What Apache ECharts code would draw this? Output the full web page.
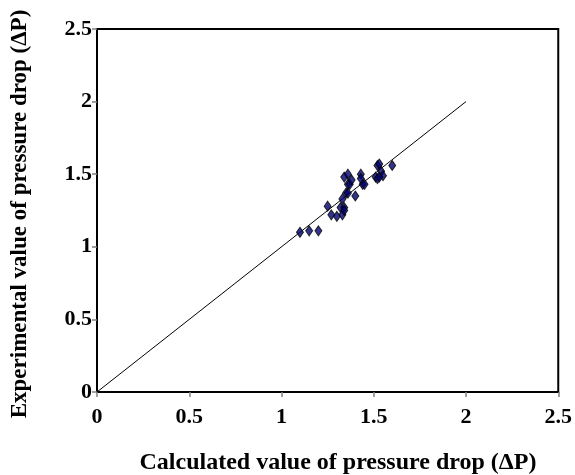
<!DOCTYPE html>
<html>
<head>
<meta charset="utf-8">
<script src="https://cdn.jsdelivr.net/npm/echarts@6/dist/echarts.min.js"></script>
<style>
  html, body { margin: 0; padding: 0; background: #fff; }
  #chart { width: 575px; height: 475px; }
</style>
</head>
<body>
<div id="chart"></div>
<script>
// calculated vs experimental pressure drop
const calcValues = [1.10, 1.15, 1.20, 1.25, 1.27, 1.30, 1.33, 1.32, 1.34, 1.34, 1.33, 1.35, 1.36, 1.40,
  1.36, 1.37, 1.38, 1.34, 1.36, 1.43, 1.43, 1.44, 1.45, 1.51, 1.52, 1.52, 1.53, 1.54, 1.55, 1.60, 1.53];
const expValues = [1.10, 1.11, 1.11, 1.28, 1.22, 1.21, 1.22, 1.27, 1.27, 1.25, 1.33, 1.37, 1.37, 1.35,
  1.43, 1.43, 1.46, 1.48, 1.50, 1.50, 1.47, 1.43, 1.43, 1.48, 1.47, 1.56, 1.57, 1.52, 1.49, 1.56, 1.48];
const lineX = [0, 2];
const lineY = [0, 2];
const tickLabels = ["0", "0.5", "1", "1.5", "2", "2.5"];

const chart = echarts.init(document.getElementById("chart"));
const font = "Liberation Serif";

const axisCommon = {
  type: "value",
  min: 0,
  max: 2.5,
  interval: 0.5,
  axisLine: { show: true, lineStyle: { color: "#000", width: 2 } },
  axisTick: { show: true, length: 5, lineStyle: { color: "#808080", width: 1.5 } },
  splitLine: { show: false },
  axisLabel: {
    color: "#000",
    fontFamily: font,
    fontWeight: "bold",
    fontSize: 22,
    formatter: (v) => tickLabels[Math.round(v / 0.5)],
  },
};

const option = {
  animation: false,
  grid: {
    left: 97,
    right: 16,
    top: 29,
    bottom: 83,
    show: true,
    borderColor: "#000",
    borderWidth: 2,
  },
  xAxis: {
    ...axisCommon,
    axisLabel: { ...axisCommon.axisLabel, margin: 14 },
  },
  yAxis: {
    ...axisCommon,
    axisLabel: { ...axisCommon.axisLabel, margin: 5 },
  },
  graphic: [
    {
      type: "text",
      x: 338,
      y: 463,
      style: {
        text: "Calculated value of pressure drop (ΔP)",
        font: "bold 24px 'Liberation Serif'",
        fill: "#000",
        align: "center",
        verticalAlign: "middle",
      },
    },
    {
      type: "text",
      x: 9,
      y: 214,
      rotation: Math.PI / 2,
      style: {
        text: "Experimental value of pressure drop (ΔP)",
        font: "bold 23px 'Liberation Serif'",
        fill: "#000",
        align: "center",
        verticalAlign: "top",
      },
    },
  ],
  series: [
    {
      type: "line",
      data: lineX.map((x, i) => [x, lineY[i]]),
      symbol: "none",
      lineStyle: { color: "#000", width: 1 },
      z: 2,
    },
    {
      type: "scatter",
      data: calcValues.map((x, i) => [x, expValues[i]]),
      symbol: "diamond",
      symbolSize: [7, 10],
      itemStyle: { color: "#000070", borderColor: "#000", borderWidth: 1 },
      z: 3,
    },
  ],
};

chart.setOption(option);
</script>
</body>
</html>
